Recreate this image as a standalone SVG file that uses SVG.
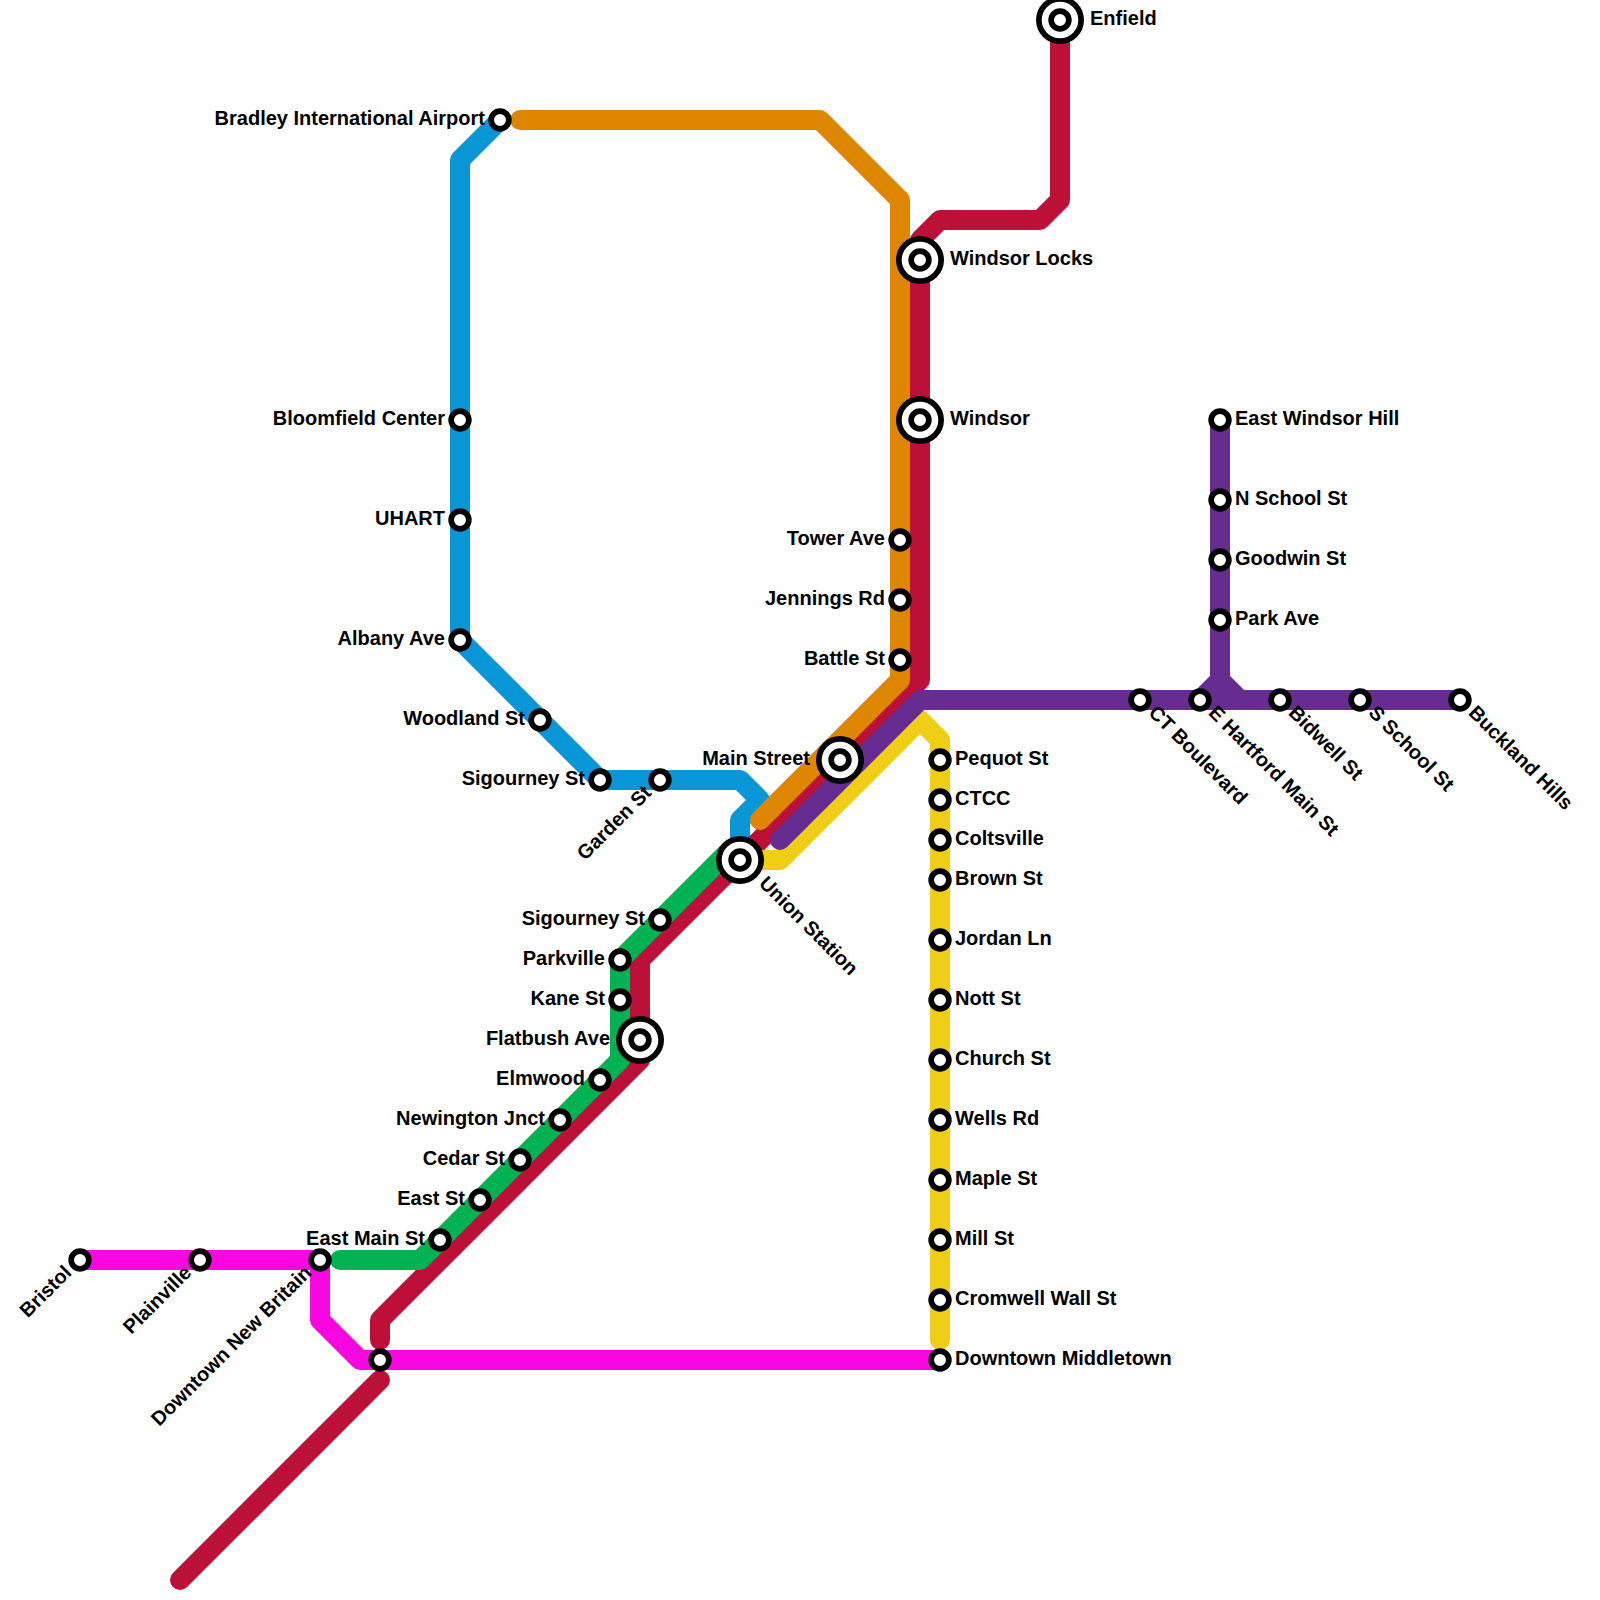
<svg xmlns="http://www.w3.org/2000/svg" width="1600" height="1600" viewBox="0 0 1600 1600">
<style>
.ln{fill:none;stroke-width:20;stroke-linecap:round;stroke-linejoin:round}
.s{fill:#fff;stroke:#000;stroke-width:5.7}
.o{fill:#000}.w{fill:#fff}
text{font-family:"Liberation Sans",Arial,sans-serif;font-weight:700;font-size:20px;fill:#000}
.e{text-anchor:end}
</style>
<rect width="1600" height="1600" fill="#fff"/>
<g id="connectors">
<path class="ln" stroke="#0896d7" d="M500 120L460 160V640L600 780H740L760 800L740 820V860"/>
<path class="ln" stroke="#bd1038" d="M180 1580L380 1380M380 1340V1320L640 1060V960L920 680V240L940 220H1040L1060 200V20"/>
<path class="ln" stroke="#f0ce15" d="M760 860H780L920 720L940 740V1340"/>
<path class="ln" stroke="#f906e0" d="M80 1260H320V1320L360 1360H940"/>
<path class="ln" stroke="#00b251" d="M340 1260H420L620 1060V960L730 850"/>
<path class="ln" stroke="#df8600" d="M520 120H820L900 200V680L760 820"/>
<path class="ln" stroke="#662c90" d="M780 840L920 700H1460M1220 420V680L1200 700M1220 680L1240 700"/>
</g>
<g id="n-bradley" transform="translate(500 120)"><circle class="s" r="8.85"/><text class="e" x="-15" y="4.5">Bradley International Airport</text></g>
<g id="n-bloomfield" transform="translate(460 420)"><circle class="s" r="8.85"/><text class="e" x="-15" y="4.5">Bloomfield Center</text></g>
<g id="n-uhart" transform="translate(460 520)"><circle class="s" r="8.85"/><text class="e" x="-15" y="4.5">UHART</text></g>
<g id="n-albany" transform="translate(460 640)"><circle class="s" r="8.85"/><text class="e" x="-15" y="4.5">Albany Ave</text></g>
<g id="n-woodland" transform="translate(540 720)"><circle class="s" r="8.85"/><text class="e" x="-15" y="4.5">Woodland St</text></g>
<g id="n-sigourney1" transform="translate(600 780)"><circle class="s" r="8.85"/><text class="e" x="-15" y="4.5">Sigourney St</text></g>
<g id="n-garden" transform="translate(660 780)"><circle class="s" r="8.85"/><text class="e" transform="rotate(-45)" x="-15" y="4.5">Garden St</text></g>
<g id="n-sigourney2" transform="translate(660 920)"><circle class="s" r="8.85"/><text class="e" x="-15" y="4.5">Sigourney St</text></g>
<g id="n-parkville" transform="translate(620 960)"><circle class="s" r="8.85"/><text class="e" x="-15" y="4.5">Parkville</text></g>
<g id="n-kane" transform="translate(620 1000)"><circle class="s" r="8.85"/><text class="e" x="-15" y="4.5">Kane St</text></g>
<g id="n-flatbush" transform="translate(640 1040)"><circle class="o" r="24"/><circle class="w" r="18.3"/><circle class="s" r="8.85"/><text class="e" x="-30" y="4.5">Flatbush Ave</text></g>
<g id="n-elmwood" transform="translate(600 1080)"><circle class="s" r="8.85"/><text class="e" x="-15" y="4.5">Elmwood</text></g>
<g id="n-newington" transform="translate(560 1120)"><circle class="s" r="8.85"/><text class="e" x="-15" y="4.5">Newington Jnct</text></g>
<g id="n-cedar" transform="translate(520 1160)"><circle class="s" r="8.85"/><text class="e" x="-15" y="4.5">Cedar St</text></g>
<g id="n-east" transform="translate(480 1200)"><circle class="s" r="8.85"/><text class="e" x="-15" y="4.5">East St</text></g>
<g id="n-eastmain" transform="translate(440 1240)"><circle class="s" r="8.85"/><text class="e" x="-15" y="4.5">East Main St</text></g>
<g id="n-bristol" transform="translate(80 1260)"><circle class="s" r="8.85"/><text class="e" transform="rotate(-45)" x="-15" y="4.5">Bristol</text></g>
<g id="n-plainville" transform="translate(200 1260)"><circle class="s" r="8.85"/><text class="e" transform="rotate(-45)" x="-15" y="4.5">Plainville</text></g>
<g id="n-newbritain" transform="translate(320 1260)"><circle class="s" r="8.85"/><text class="e" transform="rotate(-45)" x="-15" y="4.5">Downtown New Britain</text></g>
<g id="n-junction" transform="translate(380 1360)"><circle class="s" r="8.85"/></g>
<g id="n-union" transform="translate(740 860)"><circle class="o" r="24"/><circle class="w" r="18.3"/><circle class="s" r="8.85"/><text transform="rotate(45)" x="30" y="4.5">Union Station</text></g>
<g id="n-main" transform="translate(840 760)"><circle class="o" r="24"/><circle class="w" r="18.3"/><circle class="s" r="8.85"/><text class="e" x="-30" y="4.5">Main Street</text></g>
<g id="n-tower" transform="translate(900 540)"><circle class="s" r="8.85"/><text class="e" x="-15" y="4.5">Tower Ave</text></g>
<g id="n-jennings" transform="translate(900 600)"><circle class="s" r="8.85"/><text class="e" x="-15" y="4.5">Jennings Rd</text></g>
<g id="n-battle" transform="translate(900 660)"><circle class="s" r="8.85"/><text class="e" x="-15" y="4.5">Battle St</text></g>
<g id="n-windsorlocks" transform="translate(920 260)"><circle class="o" r="24"/><circle class="w" r="18.3"/><circle class="s" r="8.85"/><text x="30" y="4.5">Windsor Locks</text></g>
<g id="n-windsor" transform="translate(920 420)"><circle class="o" r="24"/><circle class="w" r="18.3"/><circle class="s" r="8.85"/><text x="30" y="4.5">Windsor</text></g>
<g id="n-enfield" transform="translate(1060 20)"><circle class="o" r="24"/><circle class="w" r="18.3"/><circle class="s" r="8.85"/><text x="30" y="4.5">Enfield</text></g>
<g id="n-pequot" transform="translate(940 760)"><circle class="s" r="8.85"/><text x="15" y="4.5">Pequot St</text></g>
<g id="n-ctcc" transform="translate(940 800)"><circle class="s" r="8.85"/><text x="15" y="4.5">CTCC</text></g>
<g id="n-coltsville" transform="translate(940 840)"><circle class="s" r="8.85"/><text x="15" y="4.5">Coltsville</text></g>
<g id="n-brown" transform="translate(940 880)"><circle class="s" r="8.85"/><text x="15" y="4.5">Brown St</text></g>
<g id="n-jordan" transform="translate(940 940)"><circle class="s" r="8.85"/><text x="15" y="4.5">Jordan Ln</text></g>
<g id="n-nott" transform="translate(940 1000)"><circle class="s" r="8.85"/><text x="15" y="4.5">Nott St</text></g>
<g id="n-church" transform="translate(940 1060)"><circle class="s" r="8.85"/><text x="15" y="4.5">Church St</text></g>
<g id="n-wells" transform="translate(940 1120)"><circle class="s" r="8.85"/><text x="15" y="4.5">Wells Rd</text></g>
<g id="n-maple" transform="translate(940 1180)"><circle class="s" r="8.85"/><text x="15" y="4.5">Maple St</text></g>
<g id="n-mill" transform="translate(940 1240)"><circle class="s" r="8.85"/><text x="15" y="4.5">Mill St</text></g>
<g id="n-cromwell" transform="translate(940 1300)"><circle class="s" r="8.85"/><text x="15" y="4.5">Cromwell Wall St</text></g>
<g id="n-middletown" transform="translate(940 1360)"><circle class="s" r="8.85"/><text x="15" y="4.5">Downtown Middletown</text></g>
<g id="n-ewindsor" transform="translate(1220 420)"><circle class="s" r="8.85"/><text x="15" y="4.5">East Windsor Hill</text></g>
<g id="n-nschool" transform="translate(1220 500)"><circle class="s" r="8.85"/><text x="15" y="4.5">N School St</text></g>
<g id="n-goodwin" transform="translate(1220 560)"><circle class="s" r="8.85"/><text x="15" y="4.5">Goodwin St</text></g>
<g id="n-park" transform="translate(1220 620)"><circle class="s" r="8.85"/><text x="15" y="4.5">Park Ave</text></g>
<g id="n-ctblvd" transform="translate(1140 700)"><circle class="s" r="8.85"/><text transform="rotate(45)" x="15" y="4.5">CT Boulevard</text></g>
<g id="n-ehartford" transform="translate(1200 700)"><circle class="s" r="8.85"/><text transform="rotate(45)" x="15" y="4.5">E Hartford Main St</text></g>
<g id="n-bidwell" transform="translate(1280 700)"><circle class="s" r="8.85"/><text transform="rotate(45)" x="15" y="4.5">Bidwell St</text></g>
<g id="n-sschool" transform="translate(1360 700)"><circle class="s" r="8.85"/><text transform="rotate(45)" x="15" y="4.5">S School St</text></g>
<g id="n-buckland" transform="translate(1460 700)"><circle class="s" r="8.85"/><text transform="rotate(45)" x="15" y="4.5">Buckland Hills</text></g>
</svg>
